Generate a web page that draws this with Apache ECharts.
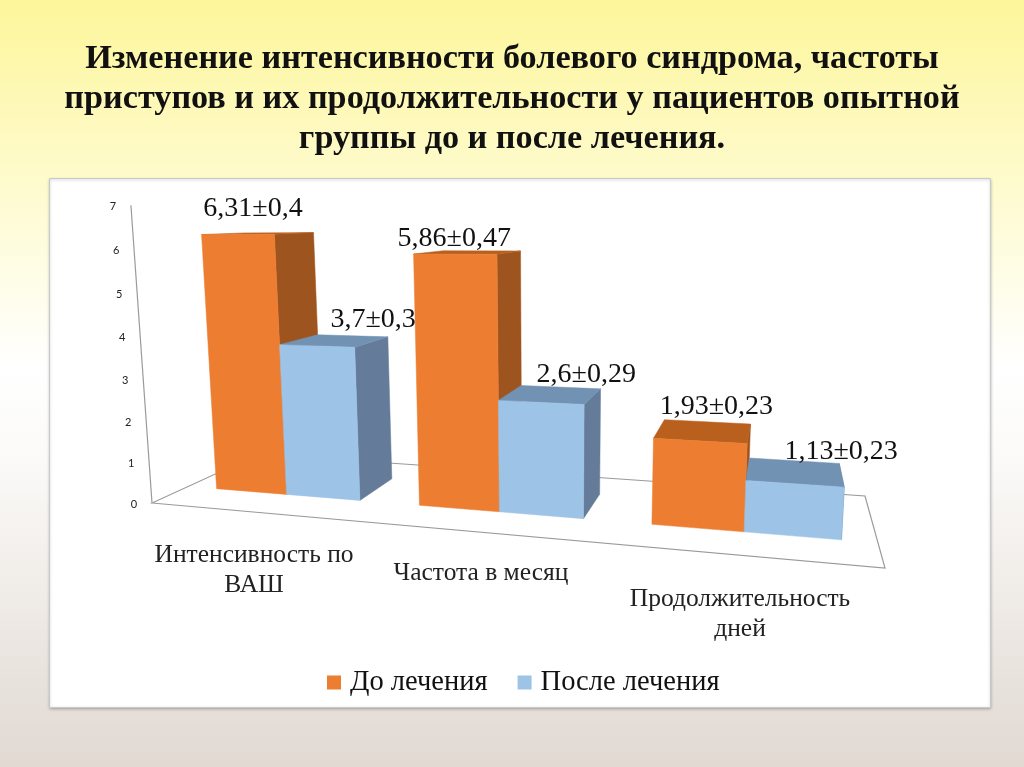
<!DOCTYPE html>
<html><head><meta charset="utf-8">
<style>html,body{margin:0;padding:0;background:#fff}#c{width:1024px;height:767px}</style>
<script src="https://cdn.jsdelivr.net/npm/echarts@6/dist/echarts.min.js"></script>
</head><body><div id="c"></div>
<script>
const titleText = 'Изменение интенсивности болевого синдрома, частоты\nприступов и их продолжительности у пациентов опытной\nгруппы до и после лечения.';
const categories = ['Интенсивность по\nВАШ', 'Частота в месяц', 'Продолжительность\nдней'];
const seriesNames = ['До лечения', 'После лечения'];
const before = [6.31, 5.86, 1.93];
const after = [3.7, 2.6, 1.13];
const beforeLabels = ['6,31±0,4', '5,86±0,47', '1,93±0,23'];
const afterLabels = ['3,7±0,3', '2,6±0,29', '1,13±0,23'];
const yTicks = [0, 1, 2, 3, 4, 5, 6, 7];

// Layout / perspective camera (not data)
const GRID = {left: 152, top: 203, width: 733, height: 300};
const YMAX = 7;
const FLOOR = [[152,503],[885,568],[865,496],[259,454]]; // front-left, front-right, back-right, back-left
const VERT = [-3.95, -44.0, -0.00717];
const Z_FRONT = 0.30, Z_BACK = 0.70;
const BAR_FRAC = 0.36, BAR_START = 0.15;
const LABEL_NUDGE = [[[15,-26],[-1,-16],[16,-34]], [[56,-26],[45,-28],[46,-32]]];
const CAT_POS = [[254,570],[481,573],[740,614]];
const FACES = [
  {front:'#ED7D31', side:'#9E541F', top:'#B9601F'},
  {front:'#9DC3E6', side:'#647C99', top:'#7292B3'}
];

const H = (function(){
  const [p0,p1,p2,p3] = FLOOR;
  const dx1=p1[0]-p2[0], dx2=p3[0]-p2[0], sx=p0[0]-p1[0]+p2[0]-p3[0];
  const dy1=p1[1]-p2[1], dy2=p3[1]-p2[1], sy=p0[1]-p1[1]+p2[1]-p3[1];
  const den=dx1*dy2-dx2*dy1;
  const g=(sx*dy2-dx2*sy)/den, h=(dx1*sy-sx*dy1)/den;
  return {a:p1[0]-p0[0]+g*p1[0], b:p3[0]-p0[0]+h*p3[0], c:p0[0],
          d:p1[1]-p0[1]+g*p1[1], e:p3[1]-p0[1]+h*p3[1], f:p0[1], g, h};
})();
// px,py: position from the axes' own scales; z: depth 0..1
function project(px, py, z){
  const u=(px-GRID.left)/GRID.width;
  const y=(GRID.top+GRID.height-py)/GRID.height*YMAX;
  const W=H.g*u+H.h*z+1+y*VERT[2];
  return [(H.a*u+H.b*z+H.c+y*VERT[0])/W, (H.d*u+H.e*z+H.f+y*VERT[1])/W];
}

function barRender(seriesIdx, labels){
  return function(params, api){
    const cat=api.value(0), val=api.value(1);
    const band=api.size([1,0])[0];
    const c0=api.coord([cat,0]), c1=api.coord([cat,val]);
    const x0=c0[0]-band/2+band*(BAR_START+BAR_FRAC*seriesIdx), x1=x0+band*BAR_FRAC;
    const yb=c0[1], yt=c1[1];
    const fbl=project(x0,yb,Z_FRONT), fbr=project(x1,yb,Z_FRONT), ftl=project(x0,yt,Z_FRONT), ftr=project(x1,yt,Z_FRONT);
    const bbr=project(x1,yb,Z_BACK), btl=project(x0,yt,Z_BACK), btr=project(x1,yt,Z_BACK);
    const col=FACES[seriesIdx];
    const poly=(points,fill)=>({type:'polygon',shape:{points},style:{fill,stroke:fill,lineWidth:0.5}});
    const n=LABEL_NUDGE[seriesIdx][cat];
    return {type:'group',children:[
      poly([fbr,bbr,btr,ftr],col.side),
      poly([ftl,ftr,btr,btl],col.top),
      poly([fbl,fbr,ftr,ftl],col.front),
      {type:'text',z2:10,style:{text:labels[cat],x:(ftl[0]+ftr[0])/2+n[0],y:(ftl[1]+ftr[1])/2+n[1],
        font:'28px "Liberation Serif"',fill:'#111',align:'center',verticalAlign:'middle'}}
    ]};
  };
}

function frameRender(params, api){
  const o=api.coord([0,0]), band=api.size([1,0])[0];
  const left=o[0]-band/2, right=left+band*categories.length, y0=o[1];
  const corners=[project(left,y0,0),project(right,y0,0),project(right,y0,1),project(left,y0,1)];
  const top=project(left,api.coord([0,YMAX])[1],0);
  const stroke='#9A9A9A';
  const kids=[
    {type:'polygon',shape:{points:corners},style:{fill:null,stroke,lineWidth:1.2}},
    {type:'line',shape:{x1:corners[0][0],y1:corners[0][1],x2:top[0],y2:top[1]},style:{stroke,lineWidth:1.2}}
  ];
  yTicks.forEach(t=>{
    const p=project(left,api.coord([0,t])[1],0);
    kids.push({type:'text',style:{text:String(t),x:p[0]-18,y:p[1]+1,font:'11px Lato',fill:'#222',align:'center',verticalAlign:'middle'}});
  });
  categories.forEach((c,i)=>{
    kids.push({type:'text',style:{text:c,x:CAT_POS[i][0],y:CAT_POS[i][1],font:'25.5px "Liberation Serif"',lineHeight:30,fill:'#222',align:'center',verticalAlign:'middle'}});
  });
  return {type:'group',children:kids};
}

const chart=echarts.init(document.getElementById('c'),null,{renderer:'canvas'});
chart.setOption({
  animation:false,
  backgroundColor:{type:'linear',x:0,y:0,x2:0,y2:1,colorStops:[
    {offset:0,color:'#FDF69B'},{offset:0.25,color:'#FEFBD0'},{offset:0.48,color:'#FFFFFF'},{offset:0.6,color:'#FBFAF8'},{offset:1,color:'#E1D9D2'}]},
  title:{text:titleText,left:507,top:34,textAlign:'center',
    textStyle:{fontFamily:'Liberation Serif',fontWeight:'bold',fontSize:34.2,lineHeight:40,color:'#111'}},
  graphic:[{type:'rect',z:-10,shape:{x:49.5,y:178.5,width:941,height:529},
    style:{fill:'#fff',stroke:'#C9C9C9',lineWidth:1,shadowColor:'rgba(0,0,0,0.25)',shadowBlur:3,shadowOffsetY:1}}],
  legend:{data:seriesNames,left:322,top:663,itemWidth:14,itemHeight:14,itemGap:30,icon:'rect',
    textStyle:{fontFamily:'Liberation Serif',fontSize:28.5,color:'#111',padding:[4,0,0,4]}},
  grid:{left:GRID.left,top:GRID.top,width:GRID.width,height:GRID.height,containLabel:false},
  xAxis:{type:'category',data:categories,show:false},
  yAxis:{type:'value',min:0,max:YMAX,interval:1,show:false},
  tooltip:{show:false},
  series:[
    {type:'custom',name:'frame',silent:true,z:1,data:[[0,0]],encode:{x:0,y:1},renderItem:frameRender,clip:false},
    {type:'custom',name:seriesNames[0],z:2,itemStyle:{color:FACES[0].front},data:before.map((v,i)=>[i,v]),encode:{x:0,y:1},renderItem:barRender(0,beforeLabels)},
    {type:'custom',name:seriesNames[1],z:3,itemStyle:{color:FACES[1].front},data:after.map((v,i)=>[i,v]),encode:{x:0,y:1},renderItem:barRender(1,afterLabels)}
  ]
});
</script></body></html>
